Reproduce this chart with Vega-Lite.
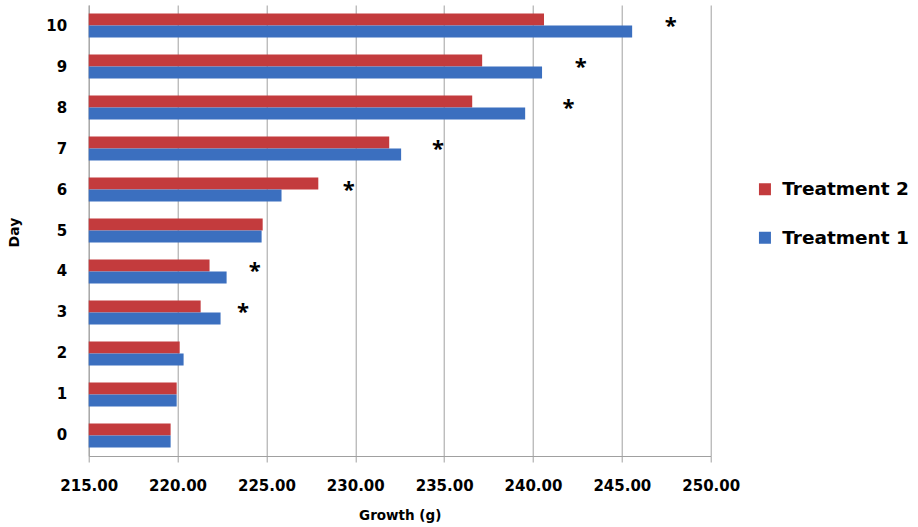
{
  "$schema": "https://vega.github.io/schema/vega-lite/v6.json",
  "width": 622,
  "height": 451,
  "autosize": {"type": "none"},
  "padding": {"left": 88.7, "top": 5, "right": 207.3, "bottom": 71},
  "background": "white",
  "config": {
    "view": {"stroke": null},
    "font": "DejaVu Sans",
    "axis": {"labelFont": "DejaVu Sans", "titleFont": "DejaVu Sans"},
    "legend": {"labelFont": "DejaVu Sans"}
  },
  "datasets": {
    "bars": [
      {"day": 10, "treatment": "Treatment 2", "growth": 240.62},
      {"day": 10, "treatment": "Treatment 1", "growth": 245.58},
      {"day": 9, "treatment": "Treatment 2", "growth": 237.14},
      {"day": 9, "treatment": "Treatment 1", "growth": 240.51},
      {"day": 8, "treatment": "Treatment 2", "growth": 236.58},
      {"day": 8, "treatment": "Treatment 1", "growth": 239.56},
      {"day": 7, "treatment": "Treatment 2", "growth": 231.91},
      {"day": 7, "treatment": "Treatment 1", "growth": 232.58},
      {"day": 6, "treatment": "Treatment 2", "growth": 227.92},
      {"day": 6, "treatment": "Treatment 1", "growth": 225.85},
      {"day": 5, "treatment": "Treatment 2", "growth": 224.79},
      {"day": 5, "treatment": "Treatment 1", "growth": 224.73},
      {"day": 4, "treatment": "Treatment 2", "growth": 221.8},
      {"day": 4, "treatment": "Treatment 1", "growth": 222.76},
      {"day": 3, "treatment": "Treatment 2", "growth": 221.3},
      {"day": 3, "treatment": "Treatment 1", "growth": 222.42},
      {"day": 2, "treatment": "Treatment 2", "growth": 220.12},
      {"day": 2, "treatment": "Treatment 1", "growth": 220.34},
      {"day": 1, "treatment": "Treatment 2", "growth": 219.95},
      {"day": 1, "treatment": "Treatment 1", "growth": 219.95},
      {"day": 0, "treatment": "Treatment 2", "growth": 219.61},
      {"day": 0, "treatment": "Treatment 1", "growth": 219.61}
    ],
    "stars": [
      {"day": 10, "pos": 247.75, "mark": "*"},
      {"day": 9, "pos": 242.69, "mark": "*"},
      {"day": 8, "pos": 242.0, "mark": "*"},
      {"day": 7, "pos": 234.65, "mark": "*"},
      {"day": 6, "pos": 229.64, "mark": "*"},
      {"day": 4, "pos": 224.35, "mark": "*"},
      {"day": 3, "pos": 223.68, "mark": "*"}
    ]
  },
  "layer": [
    {
      "data": {"name": "bars"},
      "mark": {"type": "bar", "clip": true},
      "encoding": {
        "y": {
          "field": "day", "type": "nominal", "sort": "descending",
          "scale": {"paddingInner": 0.415, "paddingOuter": 0.21},
          "axis": {
            "title": "Day", "titleFontSize": 14, "titleFontWeight": "bold", "titleColor": "#000",
            "titleX": -67, "titleY": 227, "titleAngle": -90,
            "labelFontSize": 15, "labelFontWeight": "bold", "labelColor": "#000",
            "labelPadding": 22, "ticks": false,
            "domainColor": "#a0a0a0", "grid": false
          }
        },
        "yOffset": {"field": "treatment", "type": "nominal", "scale": {"domain": ["Treatment 2", "Treatment 1"]}},
        "x": {
          "field": "growth", "type": "quantitative",
          "scale": {"domain": [215, 250], "zero": false, "nice": false},
          "axis": {
            "title": "Growth (g)", "titleFontSize": 13.5, "titleFontWeight": "bold", "titleColor": "#000",
            "titlePadding": 15,
            "values": [215, 220, 225, 230, 235, 240, 245, 250], "format": ".2f",
            "labelFontSize": 15, "labelFontWeight": "bold", "labelColor": "#000",
            "labelOverlap": false, "labelFlush": false, "labelBound": false,
            "tickSize": 6, "tickColor": "#a0a0a0", "labelPadding": 16,
            "domainColor": "#a0a0a0", "gridColor": "#a0a0a0", "grid": true
          }
        },
        "color": {
          "field": "treatment", "type": "nominal",
          "scale": {"domain": ["Treatment 2", "Treatment 1"], "range": ["#c33b3d", "#3b6fbf"]},
          "legend": {
            "title": null, "orient": "none", "legendX": 667, "legendY": 175,
            "symbolType": "square", "symbolSize": 144, "symbolStrokeWidth": 0,
            "labelFontSize": 18.5, "labelFontWeight": "bold", "labelColor": "#000",
            "labelOffset": 8, "rowPadding": 29.5
          }
        }
      }
    },
    {
      "data": {"name": "stars"},
      "mark": {"type": "text", "font": "Open Sans", "fontSize": 22, "fontWeight": "bold", "baseline": "middle", "dy": 0, "color": "#000"},
      "encoding": {
        "y": {"field": "day", "type": "nominal", "sort": "descending"},
        "x": {"field": "pos", "type": "quantitative"},
        "text": {"field": "mark"}
      }
    }
  ]
}
